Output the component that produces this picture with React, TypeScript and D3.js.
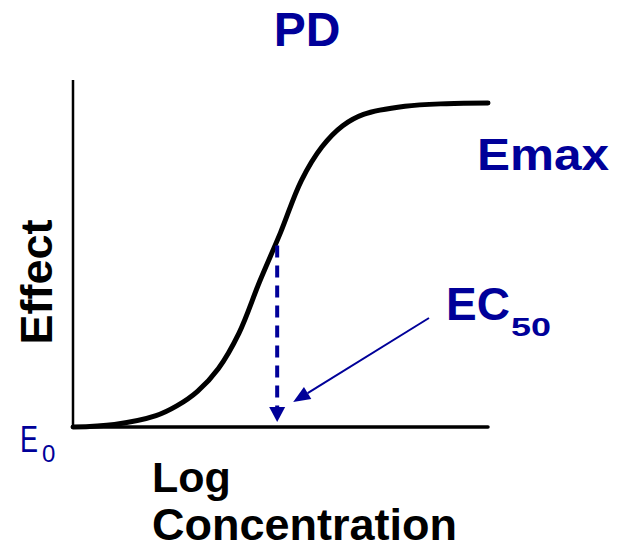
import React from "react";
import * as d3 from "d3";

// log concentration (arbitrary units) and effect (% of Emax)
const logConc = [0, 1, 2, 2.5, 3, 3.5, 4, 4.5, 5, 5.5, 6, 6.5, 7, 8, 9, 10];
const effect = [0, 0.8, 3.5, 6.5, 11, 18, 29, 45, 60, 76, 86.5, 93, 96.5, 99, 99.8, 100];

const ec50Conc = 4.92; // where the dashed drop line sits
const ec50Effect = 56;

const BLUE = "#000099";

export default function App() {
  const width = 623;
  const height = 545;

  const x = d3.scaleLinear().domain([0, 10]).range([73, 488]);
  const y = d3.scaleLinear().domain([0, 100]).range([427, 103]);

  const pts: [number, number][] = logConc.map((c, i) => [c, effect[i]]);
  const line = d3
    .line<[number, number]>()
    .x((d) => x(d[0]))
    .y((d) => y(d[1]))
    .curve(d3.curveCatmullRom.alpha(0.5));

  const dropX = x(ec50Conc);
  const dropTop = y(ec50Effect);
  const dropTip = y(0) - 5;

  // thin annotation arrow from the EC50 label to the drop line foot
  const a0: [number, number] = [429, 318];
  const a1: [number, number] = [dropX + 16, 402];
  const ang = Math.atan2(a1[1] - a0[1], a1[0] - a0[0]);
  const headLen = 17;
  const headW = 7;
  const bx = a1[0] - headLen * Math.cos(ang);
  const by = a1[1] - headLen * Math.sin(ang);
  const head = [
    [a1[0], a1[1]],
    [bx + headW * Math.sin(ang), by - headW * Math.cos(ang)],
    [bx - headW * Math.sin(ang), by + headW * Math.cos(ang)],
  ]
    .map((p) => p.join(","))
    .join(" ");

  const bold = { fontFamily: "Liberation Sans, Arial, sans-serif", fontWeight: 700 };
  const plain = { fontFamily: "Liberation Sans, Arial, sans-serif" };

  return (
    <svg
      width={width}
      height={height}
      style={{ position: "absolute", left: 0, top: 0, background: "#fff" }}
    >
      {/* axes */}
      <line x1={x(0)} x2={x(0)} y1={80} y2={y(0)} stroke="#000" strokeWidth={2.5} />
      <line x1={x(0)} x2={x(10)} y1={y(0)} y2={y(0)} stroke="#000" strokeWidth={3.5} strokeLinecap="round" />

      {/* curve */}
      <path d={line(pts) || ""} fill="none" stroke="#000" strokeWidth={5} strokeLinecap="round" />

      {/* dashed drop line to EC50 */}
      <line
        x1={dropX}
        x2={dropX}
        y1={dropTop}
        y2={dropTip - 14}
        stroke={BLUE}
        strokeWidth={4}
        strokeDasharray="12,8"
      />
      <polygon
        points={`${dropX - 8},${dropTip - 15} ${dropX + 8},${dropTip - 15} ${dropX},${dropTip}`}
        fill={BLUE}
      />

      {/* annotation arrow */}
      <line x1={a0[0]} y1={a0[1]} x2={bx} y2={by} stroke={BLUE} strokeWidth={2} />
      <polygon points={head} fill={BLUE} />

      {/* texts */}
      <text x={307} y={46} textAnchor="middle" fill={BLUE} fontSize={48} style={bold}>
        PD
      </text>
      <text x={477} y={170} fill={BLUE} fontSize={45} textLength={132} lengthAdjust="spacingAndGlyphs" style={bold}>
        Emax
      </text>
      <text x={446} y={320} fill={BLUE} fontSize={46} style={bold}>
        EC
      </text>
      <text x={511} y={336} fill={BLUE} fontSize={26} textLength={40} lengthAdjust="spacingAndGlyphs" style={bold}>
        50
      </text>
      <text
        transform="translate(52,282) rotate(-90)"
        textAnchor="middle"
        fill="#000"
        fontSize={45}
        style={bold}
      >
        Effect
      </text>
      <text x={152} y={492} fill="#000" fontSize={43} style={bold}>
        Log
      </text>
      <text x={152} y={540} fill="#000" fontSize={45} style={bold}>
        Concentration
      </text>
      <text x={20} y={452} fill={BLUE} fontSize={37} textLength={18} lengthAdjust="spacingAndGlyphs" style={plain}>
        E
      </text>
      <text x={42} y={462} fill={BLUE} fontSize={24} style={plain}>
        0
      </text>
    </svg>
  );
}
